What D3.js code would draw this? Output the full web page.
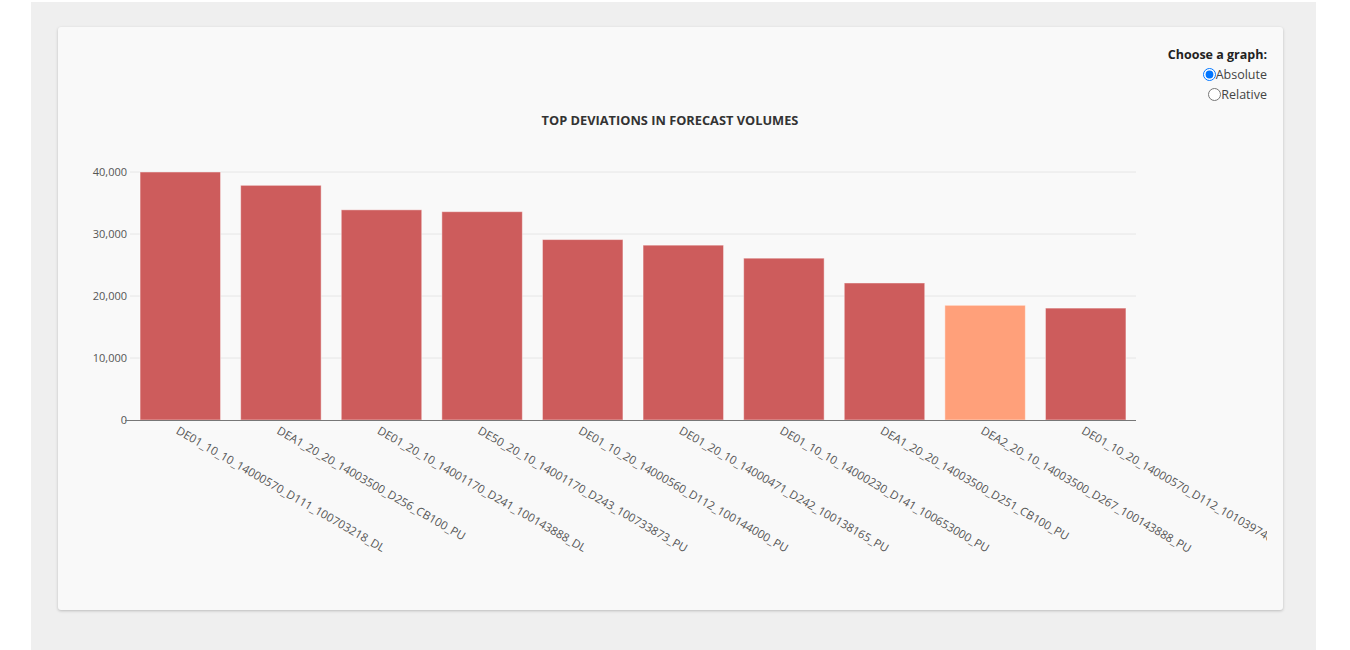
<!DOCTYPE html>
<html>
<head>
<meta charset="utf-8">
<script src="https://cdn.jsdelivr.net/npm/d3@7/dist/d3.min.js"></script>
<style>
  html, body { margin: 0; padding: 0; background: #ffffff; width: 1350px; height: 650px; overflow: hidden; }
  #outer { position: absolute; left: 31px; top: 2px; width: 1285px; height: 648px; background: #efefef; }
  #card { position: absolute; left: 27px; top: 25px; width: 1225px; height: 583px; background: #f9f9f9;
          border-radius: 3px; box-shadow: 0 1px 3px rgba(0,0,0,0.22); overflow: hidden; }
  #chooser { position: absolute; right: 16px; top: 18px; text-align: right; font-family: "Open Sans", sans-serif;
             font-size: 12.5px; color: #333; line-height: 20px; }
  #chooser .hdr { font-weight: bold; color: #222; }
  #chooser label { display: block; color: #444; }
  #chooser input { margin: 0; width: 13px; height: 13px; vertical-align: -2px; }
  svg { position: absolute; left: 0; top: 0; }
</style>
</head>
<body>
<div id="outer">
  <div id="card">
    <svg id="chart"></svg>
    <div id="chooser">
      <div class="hdr">Choose a graph:</div>
      <label><input type="radio" name="g" checked>Absolute</label>
      <label><input type="radio" name="g">Relative</label>
    </div>
  </div>
</div>
<script>
const categories = [
  "DE01_10_10_14000570_D111_100703218_DL",
  "DEA1_20_20_14003500_D256_CB100_PU",
  "DE01_20_10_14001170_D241_100143888_DL",
  "DE50_20_10_14001170_D243_100733873_PU",
  "DE01_10_20_14000560_D112_100144000_PU",
  "DE01_20_10_14000471_D242_100138165_PU",
  "DE01_10_10_14000230_D141_100653000_PU",
  "DEA1_20_20_14003500_D251_CB100_PU",
  "DEA2_20_10_14003500_D267_100143888_PU",
  "DE01_10_20_14000570_D112_101039740_PU"
];
const values = [40000, 37850, 33900, 33600, 29100, 28200, 26100, 22100, 18500, 18050];
const highlighted = [false, false, false, false, false, false, false, false, true, false];
const yTicks = [0, 10000, 20000, 30000, 40000];
const title = "TOP DEVIATIONS IN FORECAST VOLUMES";

// card origin in page coords: (58, 27)
const ox = 58, oy = 27;
const W = 1209, H = 583; // svg clipped at page x≈1267
const svg = d3.select("#chart").attr("width", W).attr("height", H);

const x = d3.scaleBand().domain(categories)
  .range([130 - ox, 1136 - ox]).paddingInner(0.2).paddingOuter(0.1);
const y = d3.scaleLinear().domain([0, 40000]).range([420 - oy, 172 - oy]);

// title
svg.append("text")
  .attr("x", 670 - ox).attr("y", 125 - oy)
  .attr("text-anchor", "middle")
  .attr("font-family", "'Open Sans', sans-serif")
  .attr("font-size", 12.8).attr("font-weight", "bold")
  .attr("fill", "#333")
  .text(title);

// gridlines
svg.append("g").selectAll("line").data(yTicks.filter(d => d > 0)).join("line")
  .attr("x1", 130 - ox).attr("x2", 1136 - ox)
  .attr("y1", d => y(d)).attr("y2", d => y(d))
  .attr("stroke", "#e6e6e6").attr("stroke-width", 1);

// y axis
const yAxis = svg.append("g")
  .attr("transform", `translate(${130 - ox},0)`)
  .call(d3.axisLeft(y).tickValues(yTicks).tickFormat(d3.format(",")).tickSize(0).tickPadding(3));
yAxis.select(".domain").remove();
yAxis.selectAll("text")
  .attr("font-family", "'Open Sans', sans-serif")
  .attr("font-size", 11).attr("fill", "#555");

// bars
svg.append("g").selectAll("rect").data(categories).join("rect")
  .attr("x", d => x(d))
  .attr("width", x.bandwidth())
  .attr("y", (d, i) => y(values[i]))
  .attr("height", (d, i) => y(0) - y(values[i]))
  .attr("fill", (d, i) => highlighted[i] ? "#ffa07a" : "#cd5c5c")
  .attr("stroke", "#ffffff").attr("stroke-opacity", 0.45).attr("stroke-width", 1);

// x axis
const xAxis = svg.append("g")
  .attr("transform", `translate(0,${y(0)})`)
  .call(d3.axisBottom(x).tickSize(0).tickSizeOuter(0).tickPadding(0));
xAxis.select(".domain")
  .attr("d", `M${125 - ox},0.5H${1136 - ox}`)
  .attr("stroke", "#777").attr("stroke-width", 1.2);
xAxis.selectAll(".tick text")
  .attr("font-family", "'Open Sans', sans-serif")
  .attr("font-size", 11.5).attr("fill", "#555")
  .attr("text-anchor", "start")
  .attr("dy", null).attr("y", null)
  .attr("transform", "translate(-5,13) rotate(30)");
</script>
</body>
</html>
